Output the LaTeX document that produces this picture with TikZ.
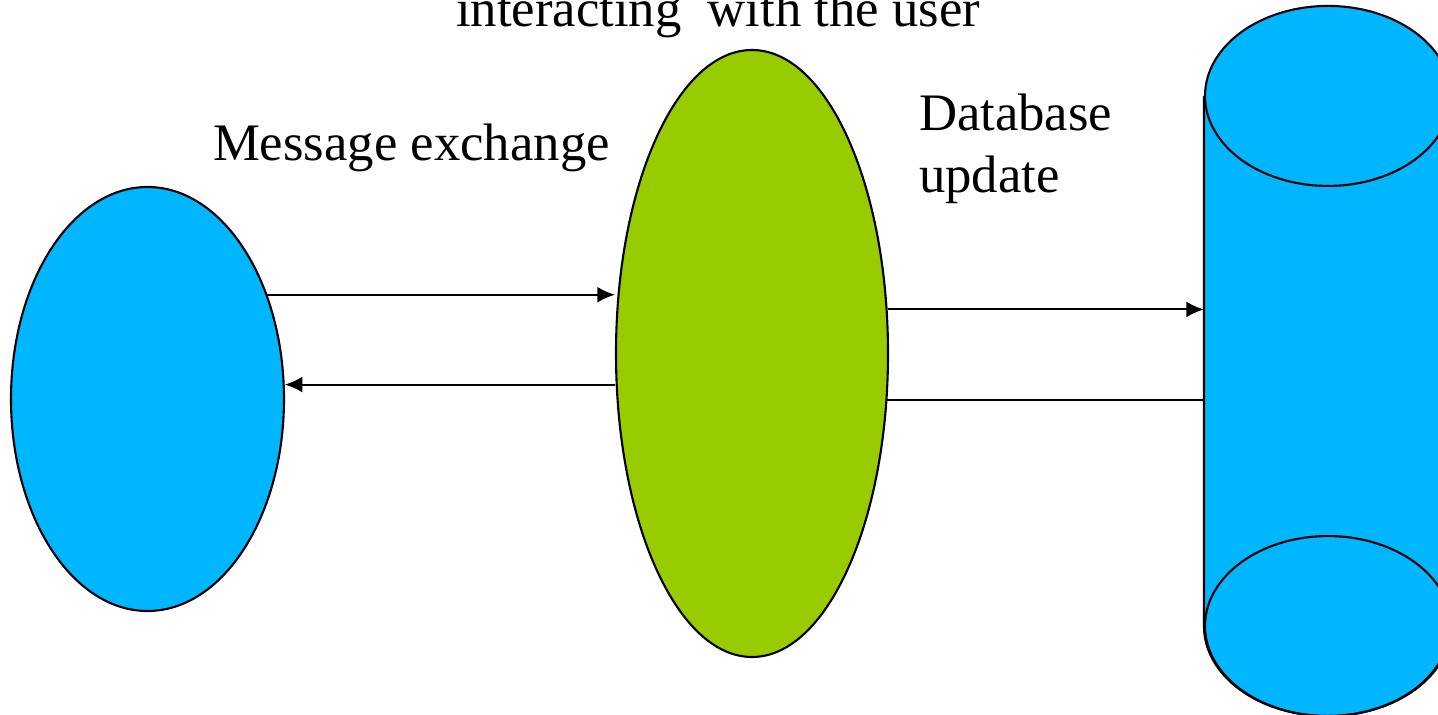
\documentclass[tikz,border=0pt]{standalone}
\usepackage{fontspec}
\setmainfont{Liberation Serif}
\usetikzlibrary{positioning,arrows.meta,shapes.geometric}
\definecolor{procblue}{RGB}{0,182,255}
\definecolor{procgreen}{RGB}{153,204,0}
\begin{document}
\begin{tikzpicture}[line width=1.2pt,
proc/.style ={ellipse, draw, inner sep=0pt},
lbl/.style = {font=\fontsize{30}{36}\selectfont, inner sep=0pt},
edge/.style = {-{Latex[length=10pt,width=9pt]}, line width=1.1pt}]

\useasboundingbox (0,0) rectangle (28.76,-14.3);

\node[proc, fill=procblue, minimum width=5.46cm, minimum height=8.48cm] (client) at (2.95,-7.98) {};
\node[proc, fill=procgreen, minimum width=5.44cm, minimum height=12.14cm] (server) at (15.04,-7.07) {};

% database cylinder
\node[minimum width=4.92cm, minimum height=10.56cm, inner sep=0pt] (db) at (26.56,-7.22) {};
\draw[fill=procblue] (db.north west) -- (db.south west) arc[start angle=180, end angle=360, x radius=2.46cm, y radius=1.8cm] -- (db.north east);
\draw[fill=procblue] (db.north) ellipse [x radius=2.46cm, y radius=1.8cm];
\draw (db.south) ellipse [x radius=2.46cm, y radius=1.8cm];

\node[lbl, anchor=base west] (user) at (9.1,-0.54) {interacting~ with the user};
\node[lbl, anchor=base west] (msg) at (4.24,-3.22) {Message exchange};
\node[lbl, anchor=base west] (upd1) at (18.36,-2.62) {Database};
\node[lbl, anchor=base west] (upd2) at (18.36,-3.86) {update};

\draw[edge] (client.41) -- (client.41 -| server.west);
\draw[edge] (client.6 -| server.west) -- (client.6);
\draw[edge] (server.18) -- (server.18 -| db.west);
\draw[line width=1.1pt] (server.-19 -| db.west) -- (server.-19);

\end{tikzpicture}
\end{document}
